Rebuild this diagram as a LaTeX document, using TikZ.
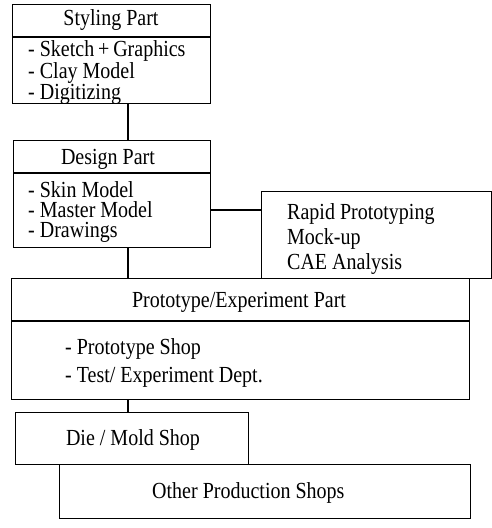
\documentclass[tikz,border=0pt]{standalone}
\usepackage{fontspec}
\setmainfont[FakeStretch=0.87]{Liberation Serif}
\begin{document}
\begin{tikzpicture}[x=1pt,y=-1pt,
  box/.style={draw,line width=1.1pt,inner sep=0pt},
  txt/.style={inner sep=0pt,font=\fontsize{23}{23}\selectfont},
  list/.style={inner sep=0pt,align=left,anchor=base west,font=\fontsize{23}{#1}\selectfont},
  conn/.style={line width=1.1pt}]
\useasboundingbox (0,0) rectangle (492,528);
% boxes
\node[box,minimum width=198,minimum height=99,anchor=north west] (styling) at (12,4) {};
\node[box,minimum width=197,minimum height=107,anchor=north west] (design) at (13,140) {};
\node[box,minimum width=230,minimum height=87,anchor=north west] (rapid) at (261,191) {};
\node[box,minimum width=458,minimum height=121,anchor=north west] (proto) at (11,278) {};
\node[box,minimum width=233,minimum height=52,anchor=north west] (die) at (15,412) {};
\node[box,minimum width=411,minimum height=54,anchor=north west] (other) at (59,464) {};
% header dividers
\coordinate (sdiv) at (0,37);
\coordinate (ddiv) at (0,173);
\coordinate (pdiv) at (0,321);
\draw[conn] (styling.west |- sdiv) -- (styling.east |- sdiv);
\draw[conn] (design.west |- ddiv) -- (design.east |- ddiv);
\draw[conn] (proto.west |- pdiv) -- (proto.east |- pdiv);
% connectors
\coordinate (cx) at (128,0);
\coordinate (ry) at (0,210);
\draw[conn] (styling.south -| cx) -- (design.north -| cx);
\draw[conn] (design.south -| cx) -- (proto.north -| cx);
\draw[conn] (proto.south -| cx) -- (die.north -| cx);
\draw[conn] (design.east |- ry) -- (rapid.west |- ry);
% texts
\node[txt,anchor=base] (st) at (111,25) {Styling Part};
\node[list=20.5] (sl) at (28,99) {- Sketch\,+\,Graphics\\- Clay Model\\- Digitizing};
\node[txt,anchor=base] (dt) at (108,164) {Design Part};
\node[list=20] (dl) at (28,237) {- Skin Model\\- Master Model\\- Drawings};
\node[list=25] (rl) at (287,269) {Rapid Prototyping\\Mock-up\\CAE Analysis};
\node[txt,anchor=base] (pt) at (239,307) {Prototype/Experiment Part};
\node[list=28] (pl) at (65,382) {- Prototype Shop\\- Test/ Experiment Dept.};
\node[txt,anchor=base] (dm) at (133,445) {Die / Mold Shop};
\node[txt,anchor=base west] (op) at (152,498) {Other Production Shops};
\end{tikzpicture}
\end{document}
